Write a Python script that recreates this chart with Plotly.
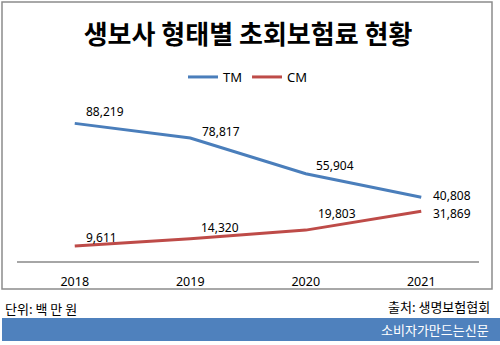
import plotly.graph_objects as go

# ---- data ----
years = ["2018", "2019", "2020", "2021"]
tm_values = [88219, 78817, 55904, 40808]
cm_values = [9611, 14320, 19803, 31869]
series_names = ["TM", "CM"]

title_text = "생보사 형태별 초회보험료 현황"
unit_text = "단위: 백 만 원"
source_text = "출처: 생명보험협회"
brand_text = "소비자가만드는신문"

# ---- style / layout ----
W, H = 500, 345
ML, MR, MT, MB = 17, 21, 105, 84
PW, PH = W - ML - MR, H - MT - MB
BLUE = "#4A7EBB"
RED = "#BE4B48"
KFONT = "Noto Sans CJK KR"
NFONT = "Noto Sans"

# label offsets (pixels) for each point
tm_shift = [(30, 12), (31, 7), (29, 8), (31, 2)]
cm_shift = [(27, 9), (30, 11), (31, 17), (31, -2)]


def px(x):
    return (x - ML) / PW


def py(y):
    return (H - MB - y) / PH


fig = go.Figure()
fig.add_trace(go.Scatter(x=years, y=tm_values, name=series_names[0], mode="lines",
                         line=dict(color=BLUE, width=3)))
fig.add_trace(go.Scatter(x=years, y=cm_values, name=series_names[1], mode="lines",
                         line=dict(color=RED, width=3)))

annotations = []
for vals, shifts in ((tm_values, tm_shift), (cm_values, cm_shift)):
    for i, (v, (dx, dy)) in enumerate(zip(vals, shifts)):
        annotations.append(dict(x=i, y=v, xref="x", yref="y", text=f"{v:,}",
                                showarrow=False, xshift=dx, yshift=dy, borderpad=0,
                                font=dict(family=NFONT, size=12, color="#000")))

annotations += [
    dict(x=px(3), y=py(308), xref="paper", yref="paper", text=unit_text,
         showarrow=False, xanchor="left", yanchor="middle",
         font=dict(family=KFONT, size=13, color="#000")),
    dict(x=px(492), y=py(306), xref="paper", yref="paper", text=source_text,
         showarrow=False, xanchor="right", yanchor="middle",
         font=dict(family=KFONT, size=13, color="#000")),
    dict(x=px(491), y=py(329), xref="paper", yref="paper", text=brand_text,
         showarrow=False, xanchor="right", yanchor="middle",
         font=dict(family=KFONT, size=13, color="#FFFFFF")),
]

shapes = [
    dict(type="rect", xref="paper", yref="paper", x0=px(2), x1=px(492), y0=py(289), y1=py(2),
         line=dict(color="#8C8C8C", width=1.5), fillcolor="rgba(0,0,0,0)", layer="below"),
    dict(type="rect", xref="paper", yref="paper", x0=px(2), x1=px(500), y0=py(341), y1=py(318),
         line=dict(width=0), fillcolor="#4F81BD", layer="below"),
]

fig.update_layout(
    width=W, height=H,
    margin=dict(l=ML, r=MR, t=MT, b=MB, pad=0),
    paper_bgcolor="white", plot_bgcolor="white",
    title=dict(text=f"<b>{title_text}</b>", x=0.5, xanchor="center", xref="paper",
               y=1 - 35 / H, yanchor="middle",
               font=dict(family=KFONT, size=26, color="#000")),
    legend=dict(orientation="h", x=0.5, xanchor="center", y=py(77), yanchor="middle",
                font=dict(family=NFONT, size=13, color="#000"), itemwidth=30,
                bgcolor="rgba(0,0,0,0)"),
    xaxis=dict(type="category", range=[-0.5, 3.5], showgrid=False, zeroline=False,
               showline=True, linecolor="#A6A6A6", linewidth=1.5, ticks="",
               ticklabelstandoff=8,
               tickfont=dict(family=NFONT, size=12.5, color="#000"), fixedrange=True),
    yaxis=dict(range=[0, 100000], visible=False, showgrid=False, zeroline=False,
               fixedrange=True),
    annotations=annotations,
    shapes=shapes,
    showlegend=True,
)

fig.write_html("out.html")
